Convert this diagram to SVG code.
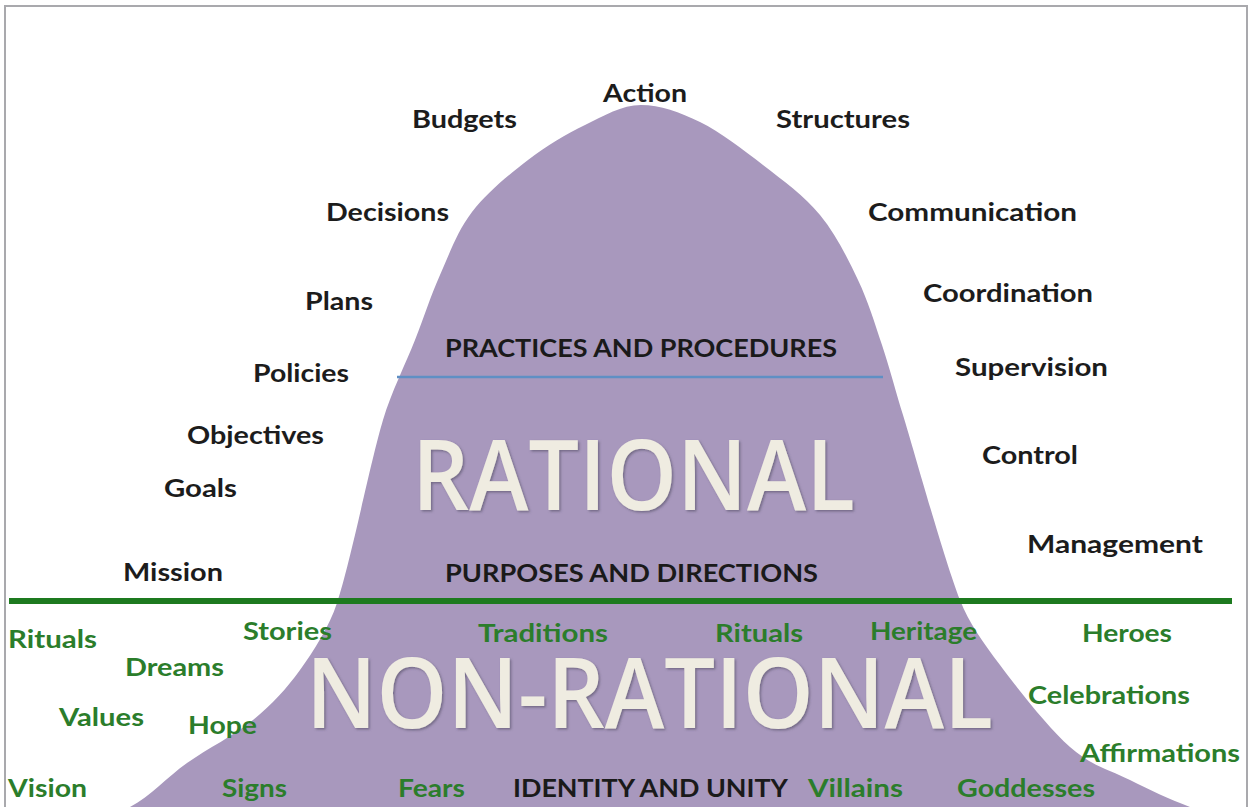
<svg xmlns="http://www.w3.org/2000/svg" width="1252" height="807" viewBox="0 0 1252 807">
  <defs>
    <style>
      .lbl { font-family: Lato, "Liberation Sans", sans-serif; font-weight: 700; font-size: 25px; }
      .cap { font-family: Lato, "Liberation Sans", sans-serif; font-weight: 700; font-size: 24px; fill: #1a1a1a; }
      .blk { fill: #1c1c1c; }
      .grn { fill: #2b7d2b; }
      .big { font-family: "Open Sans", "Liberation Sans", sans-serif; font-weight: 600; font-size: 98px; fill: #efece1; filter: url(#emboss); }
    </style>
    <filter id="emboss" x="-5%" y="-10%" width="110%" height="125%">
      <feDropShadow dx="1.5" dy="1.5" stdDeviation="1" flood-color="#4a4458" flood-opacity="0.55"/>
    </filter>
  </defs>

  <!-- page -->
  <rect x="0" y="0" width="1252" height="807" fill="#ffffff"/>
  <rect x="5" y="6" width="1242" height="830" fill="none" stroke="#a9a9ad" stroke-width="2"/>

  <!-- bell curve -->
  <g id="curve">
    <path fill="#a898bd" d="M130,807
      C151.2,795.8 166.5,777.5 187,763
      C207.5,748.5 234.2,735.5 253,720
      C271.8,704.5 286,689.5 300,670
      C314,650.5 329.2,626.7 337,603
      C350.8,561.3 370,463.8 383,420
      C391.3,392.2 405.5,364.2 415,340
      C424.5,315.8 430.5,296.3 440,275
      C449.5,253.7 457.3,231.2 472,212
      C486.7,192.8 509.2,174.5 528,160
      C546.8,145.5 566.2,134.2 585,125
      C603.8,115.8 621.8,105 641,105
      C660.2,105 679.7,112 700,122
      C720.3,132 743,149.5 763,165
      C783,180.5 804.2,195.8 820,215
      C835.8,234.2 847.7,258.3 858,280
      C868.3,301.7 874.5,322.5 882,345
      C889.5,367.5 897,396 903,415
      C916,457.5 943.8,558.3 960,600
      C969.1,623.3 981.7,640.5 1000,665
      C1018.3,689.5 1048.3,727.8 1070,747
      C1091.7,766.2 1110,770 1130,780
      C1150,790 1168.3,798.7 1190,807
      L1190,812 L130,812 Z"/>
  </g>

  <!-- dividing lines -->
  <g id="connectors">
    <line x1="397" y1="377" x2="883" y2="377" stroke="#5f8fc4" stroke-width="2.5"/>
    <line x1="9" y1="601" x2="1232" y2="601" stroke="#1d7a1f" stroke-width="6"/>
  </g>

  <!-- headline words -->
  <g id="rational">
    <text class="big" x="412" y="510" textLength="443" lengthAdjust="spacingAndGlyphs">RATIONAL</text>
  </g>
  <g id="non-rational">
    <text class="big" x="306" y="728" textLength="687" lengthAdjust="spacingAndGlyphs">NON-RATIONAL</text>
  </g>

  <!-- band titles -->
  <g id="bands">
    <text class="cap" x="445" y="357" textLength="392" lengthAdjust="spacingAndGlyphs">PRACTICES AND PROCEDURES</text>
    <text class="cap" x="445" y="582" textLength="373" lengthAdjust="spacingAndGlyphs">PURPOSES AND DIRECTIONS</text>
    <text class="cap" x="513" y="797" textLength="275" lengthAdjust="spacingAndGlyphs">IDENTITY AND UNITY</text>
  </g>

  <!-- rational terms -->
  <g id="rational-terms" class="lbl blk">
    <text x="603" y="102" textLength="84" lengthAdjust="spacingAndGlyphs">Action</text>
    <text x="412" y="128" textLength="105" lengthAdjust="spacingAndGlyphs">Budgets</text>
    <text x="776" y="128" textLength="134" lengthAdjust="spacingAndGlyphs">Structures</text>
    <text x="326" y="221" textLength="123" lengthAdjust="spacingAndGlyphs">Decisions</text>
    <text x="868" y="221" textLength="209" lengthAdjust="spacingAndGlyphs">Communication</text>
    <text x="305" y="310" textLength="68" lengthAdjust="spacingAndGlyphs">Plans</text>
    <text x="923" y="302" textLength="170" lengthAdjust="spacingAndGlyphs">Coordination</text>
    <text x="253" y="382" textLength="96" lengthAdjust="spacingAndGlyphs">Policies</text>
    <text x="955" y="376" textLength="153" lengthAdjust="spacingAndGlyphs">Supervision</text>
    <text x="187" y="444" textLength="137" lengthAdjust="spacingAndGlyphs">Objectives</text>
    <text x="982" y="464" textLength="96" lengthAdjust="spacingAndGlyphs">Control</text>
    <text x="164" y="497" textLength="73" lengthAdjust="spacingAndGlyphs">Goals</text>
    <text x="1027" y="553" textLength="176" lengthAdjust="spacingAndGlyphs">Management</text>
    <text x="123" y="581" textLength="100" lengthAdjust="spacingAndGlyphs">Mission</text>
  </g>

  <!-- non-rational terms -->
  <g id="non-rational-terms" class="lbl grn">
    <text x="8" y="648" textLength="89" lengthAdjust="spacingAndGlyphs">Rituals</text>
    <text x="243" y="640" textLength="89" lengthAdjust="spacingAndGlyphs">Stories</text>
    <text x="478" y="642" textLength="130" lengthAdjust="spacingAndGlyphs">Traditions</text>
    <text x="715" y="642" textLength="88" lengthAdjust="spacingAndGlyphs">Rituals</text>
    <text x="870" y="640" textLength="107" lengthAdjust="spacingAndGlyphs">Heritage</text>
    <text x="1082" y="642" textLength="90" lengthAdjust="spacingAndGlyphs">Heroes</text>
    <text x="125" y="676" textLength="99" lengthAdjust="spacingAndGlyphs">Dreams</text>
    <text x="1028" y="704" textLength="162" lengthAdjust="spacingAndGlyphs">Celebrations</text>
    <text x="59" y="726" textLength="85" lengthAdjust="spacingAndGlyphs">Values</text>
    <text x="188" y="734" textLength="69" lengthAdjust="spacingAndGlyphs">Hope</text>
    <text x="1080" y="762" textLength="160" lengthAdjust="spacingAndGlyphs">Affirmations</text>
    <text x="8" y="797" textLength="79" lengthAdjust="spacingAndGlyphs">Vision</text>
    <text x="222" y="797" textLength="65" lengthAdjust="spacingAndGlyphs">Signs</text>
    <text x="398" y="797" textLength="67" lengthAdjust="spacingAndGlyphs">Fears</text>
    <text x="808" y="797" textLength="95" lengthAdjust="spacingAndGlyphs">Villains</text>
    <text x="957" y="797" textLength="138" lengthAdjust="spacingAndGlyphs">Goddesses</text>
  </g>
</svg>
